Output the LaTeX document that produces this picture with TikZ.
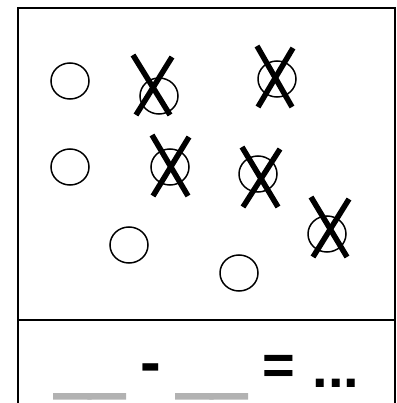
\documentclass[tikz,border=0pt]{standalone}
\usepackage{fontspec}
\setmainfont{Liberation Sans}
\newfontfamily\blankfont[FakeBold=4]{Liberation Sans}
\usepackage{xcolor}
\usetikzlibrary{shapes.geometric,positioning}

\begin{document}
\begin{tikzpicture}[x=1pt, y=-1pt,
        dot/.style={ellipse, draw, line width=1.5pt, minimum width=38pt, minimum height=36pt,
                    inner sep=0pt},
        strike/.style={line width=5.5pt},
        frame/.style={line width=2pt},
        sym/.style={font=\fontsize{56}{66}\selectfont\bfseries, inner sep=0pt, anchor=base},
        blank/.style={font=\fontsize{62}{70}\selectfont\blankfont, inner sep=0pt,
                      anchor=base west, text=gray!60}
    ]
        \useasboundingbox (0,0) rectangle (396,403);

        % Frame
        \draw[frame] (18,403) -- (18,8) -- (395,8) -- (395,403);
        \draw[frame] (18,320) -- (395,320);

        % Circles
        \node[dot] (c1) at (70,81) {};
        \node[dot] (c2) at (159,96) {};
        \node[dot] (c3) at (277,79) {};
        \node[dot] (c4) at (70,167) {};
        \node[dot] (c5) at (170,167) {};
        \node[dot] (c6) at (258,174) {};
        \node[dot] (c7) at (129,245) {};
        \node[dot] (c8) at (239,273) {};
        \node[dot] (c9) at (327,234) {};

        % Crosses
        \draw[strike] (133,55) -- (170,115);
        \draw[strike] (172,57) -- (136,115);
        \draw[strike] (257,46) -- (292,107);
        \draw[strike] (293,48) -- (258,107);
        \draw[strike] (152,135) -- (188,196);
        \draw[strike] (189,137) -- (153,196);
        \draw[strike] (242,147) -- (278,207);
        \draw[strike] (280,149) -- (243,207);
        \draw[strike] (311,197) -- (347,257);
        \draw[strike] (349,199) -- (313,257);

        % Sum
        \node[blank] (b1) at (55,386) {\_\_};
        \node[sym, font=\fontsize{62}{70}\selectfont\bfseries] (minus) at (151,383) {-};
        \node[blank] (b2) at (177,386) {\_\_};
        \node[sym] (eq) at (279,384) {=};
        \node[sym] (res) at (336,387) {...};
    \end{tikzpicture}
\end{document}
